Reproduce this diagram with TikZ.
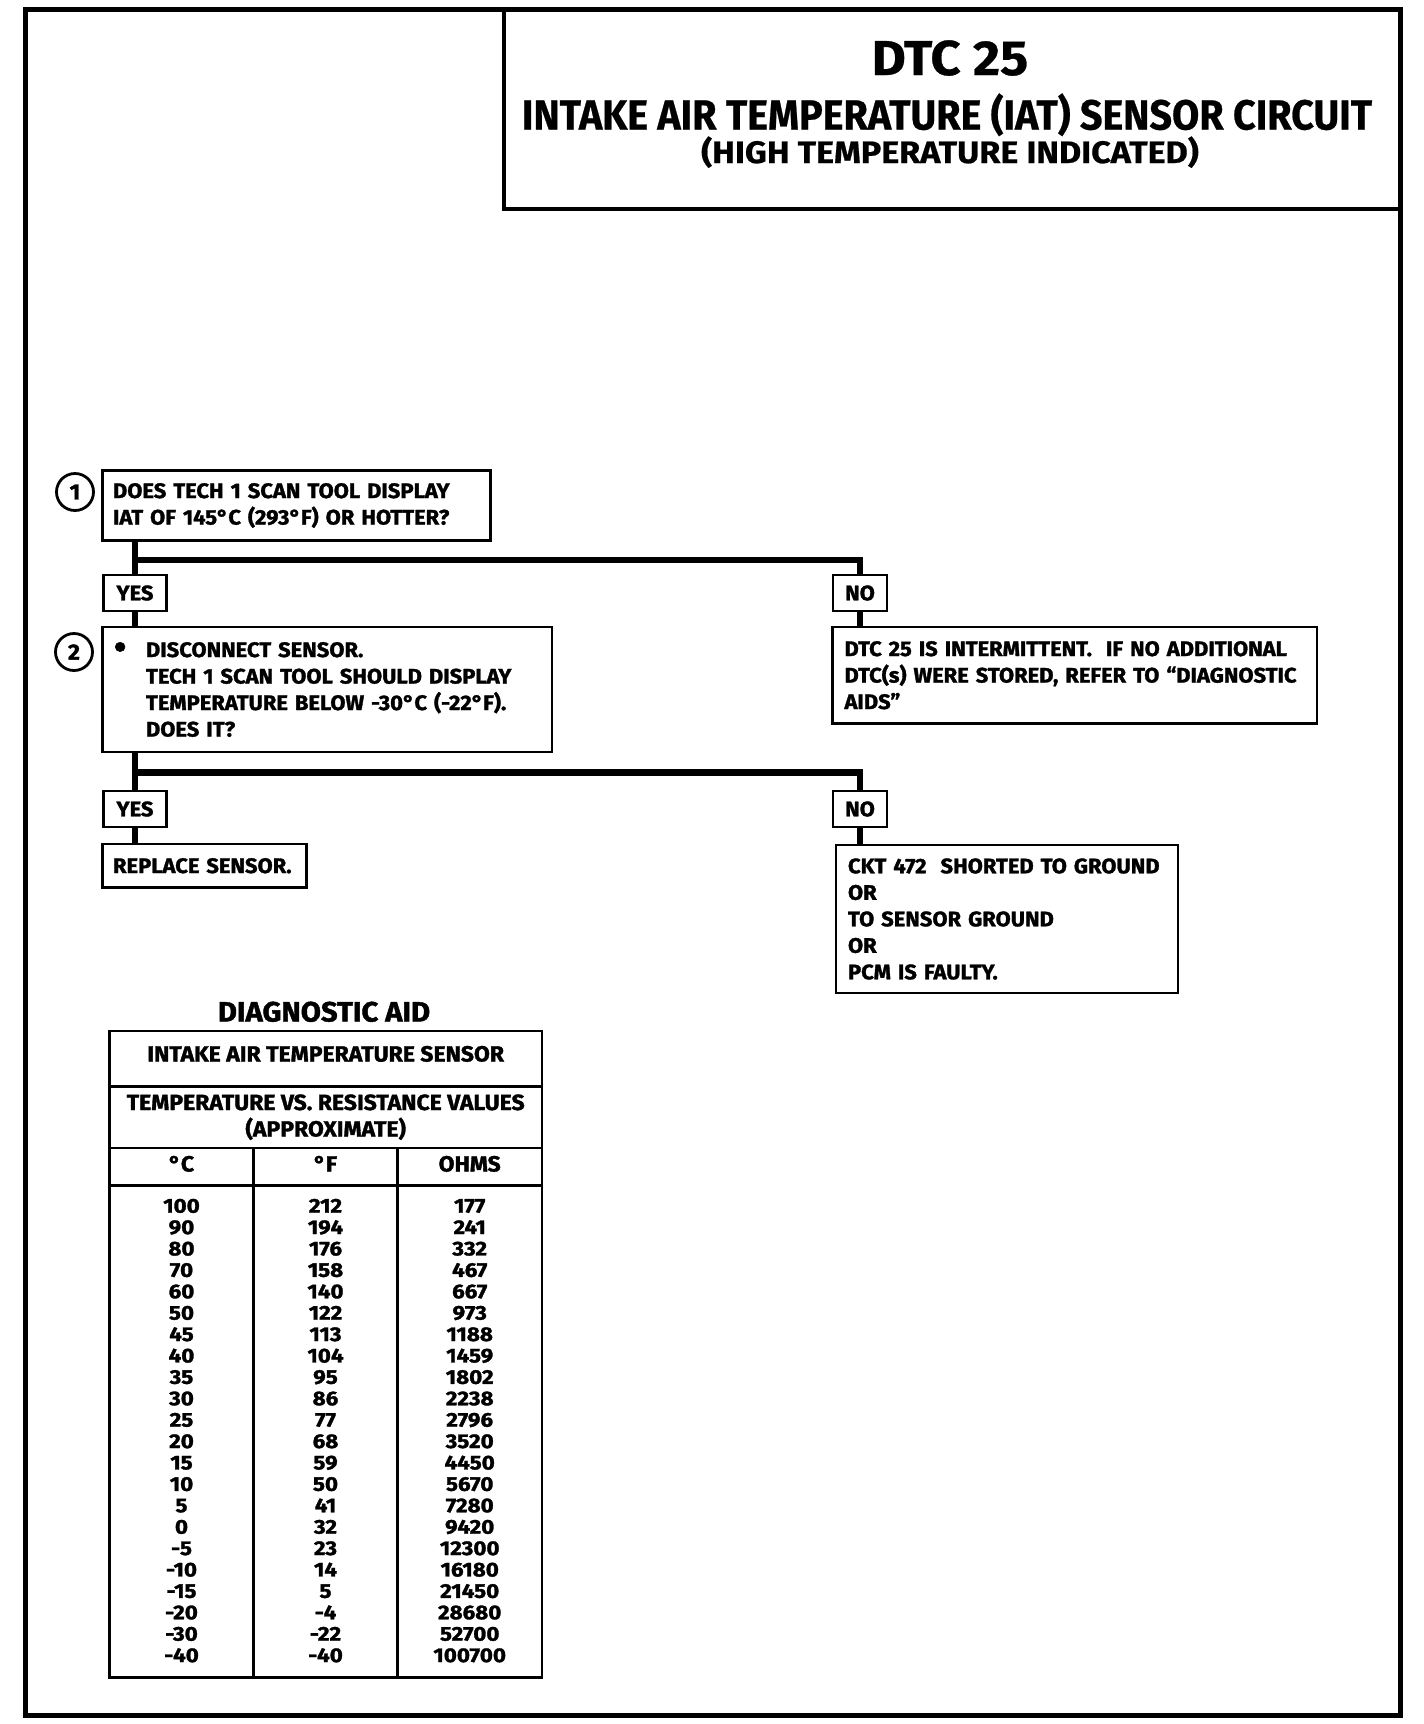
\documentclass[tikz,border=0pt]{standalone}
\usepackage{fontspec}
\setmainfont{Fira Sans}
\newfontfamily\tfontA{Fira Sans}[FakeStretch=1.07, FakeBold=0.6]
\newfontfamily\tfontB{Fira Sans}[FakeStretch=0.94, FakeBold=0.6]
\newfontfamily\tfontC{Fira Sans}[FakeStretch=1.1, FakeBold=0.6]
\newfontfamily\bfont{Fira Sans}[FakeStretch=1.045, FakeBold=1.5]
\newfontfamily\cfont{Fira Sans}[FakeStretch=1.12, FakeBold=1.5]
\newcommand\bodyf{\bfont\bfseries\fontsize{21}{26.5}\selectfont}
\newcommand\headf{\bfont\bfseries\fontsize{22}{26.5}\selectfont}
\newcommand\cellf{\cfont\bfseries\fontsize{20}{21}\selectfont}
\newcommand\numf{\bfont\bfseries\fontsize{22}{22}\selectfont}
\newcommand\bigbul{\raisebox{-1.5pt}{\fontsize{34}{26.5}\selectfont•}}
\begin{document}
\begin{tikzpicture}[x=1pt,y=-1pt,
  frameline/.style={line width=5pt},
  fbox/.style={draw, line width=2.6pt, anchor=north west, outer sep=0pt, inner xsep=10.5pt, inner ysep=0pt, align=left, font=\bodyf},
  lab/.style={draw, line width=2.6pt, minimum width=63pt, minimum height=36pt, inner sep=0pt, outer sep=0pt, font=\bodyf},
  conn/.style={line width=6.5pt},
  numc/.style={draw, circle, line width=2.8pt, minimum size=37pt, inner sep=0pt, font=\numf},
  tline/.style={line width=2.5pt},
  cell/.style={font=\cellf, inner sep=0pt, text height=13.3pt, text depth=0pt},
  thead/.style={font=\headf, inner sep=0pt, anchor=base},
]
\useasboundingbox (0,0) rectangle (1424,1724);
% outer frame and title box
\draw[frameline] (25,9.5) rectangle (1400,1715);
\draw[line width=4pt] (504,9.5) -- (504,209) -- (1400,209);
\node[anchor=base, inner sep=0pt, font={\tfontA\bfseries\fontsize{49}{49}\selectfont}] (t1) at (950,75) {DTC 25};
\node[anchor=base, inner sep=0pt, font={\tfontB\bfseries\fontsize{42}{42}\selectfont}] (t2) at (947,129.5) {INTAKE AIR TEMPERATURE (IAT) SENSOR CIRCUIT};
\node[anchor=base, inner sep=0pt, font={\tfontC\bfseries\fontsize{31}{31}\selectfont}] (t3) at (950,163) {(HIGH TEMPERATURE INDICATED)};

% step circles
\node[numc] (c1) at (75,492) {1};
\node[numc] (c2) at (74,652) {2};

% boxes
\node[fbox, text width=367pt, minimum height=70pt] (q1) at (102.5,470.5)
  {DOES TECH 1 SCAN TOOL DISPLAY\\IAT OF 145°C (293°F) OR HOTTER?};
\node[fbox, text width=428.5pt, minimum height=125pt] (q2) at (102.5,627)
  {\makebox[33pt][l]{\hspace{1pt}\bigbul}DISCONNECT SENSOR.\\
   \hspace*{33pt}TECH 1 SCAN TOOL SHOULD DISPLAY\\
   \hspace*{33pt}TEMPERATURE BELOW -30°C (-22°F).\\
   \hspace*{33pt}DOES IT?};
\node[fbox, inner xsep=12pt, text width=460.5pt, minimum height=96.5pt] (r1) at (832.5,627)
  {DTC 25 IS INTERMITTENT.\ \ IF NO ADDITIONAL\\DTC(s) WERE STORED, REFER TO “DIAGNOSTIC\\AIDS”};
\node[fbox, text width=183pt, minimum height=43.5pt] (rep) at (102.5,844)
  {REPLACE SENSOR.};
\node[fbox, inner xsep=12pt, text width=318pt, minimum height=148pt] (ckt) at (836,845)
  {CKT 472\ \ SHORTED TO GROUND\\OR\\TO SENSOR GROUND\\OR\\PCM IS FAULTY.};

% yes / no labels
\node[lab] (yes1) at (135,593) {YES};
\node[lab, minimum width=54pt] (no1) at (860,593) {NO};
\node[lab] (yes2) at (135,809) {YES};
\node[lab, minimum width=54pt] (no2) at (860,809) {NO};

% connectors
\coordinate (h1) at (0,560);
\coordinate (h2) at (0,772.5);
\draw[conn] (yes1.north |- q1.south) -- (yes1.north);
\draw[conn] (yes1.south) -- (yes1.south |- q2.north);
\draw[conn] (yes1.north |- h1) -| (no1.north);
\draw[conn] (no1.south) -- (no1.south |- r1.north);
\draw[conn] (yes2.north |- q2.south) -- (yes2.north);
\draw[conn] (yes2.south) -- (yes2.south |- rep.north);
\draw[conn] (yes2.north |- h2) -| (no2.north);
\draw[conn] (no2.south) -- (no2.south |- ckt.north);

% diagnostic aid table
\node[anchor=base, inner sep=0pt, font={\bfont\bfseries\fontsize{28}{28}\selectfont}] (da) at (324,1021.5) {DIAGNOSTIC AID};
\draw[tline] (109.5,1031) rectangle (542,1677.5);
\draw[tline] (109.5,1086.5) -- (542,1086.5);
\draw[tline] (109.5,1148) -- (542,1148);
\draw[line width=3pt] (109.5,1185) -- (542,1185);
\draw[tline] (253.5,1148) -- (253.5,1677.5);
\draw[tline] (397.5,1148) -- (397.5,1677.5);
\node[thead] (h1t) at (325.7,1061.5) {INTAKE AIR TEMPERATURE SENSOR};
\node[thead] (h2t) at (325.7,1110) {TEMPERATURE VS. RESISTANCE VALUES};
\node[thead] (h3t) at (325.7,1136.5) {(APPROXIMATE)};
\node[thead] (hc) at (181.5,1171.5) {°C};
\node[thead] (hf) at (325.5,1171.5) {°F};
\node[thead] (ho) at (469.7,1171.5) {OHMS};
\foreach \c/\f/\o [count=\i from 0] in {100/212/177,90/194/241,80/176/332,70/158/467,60/140/667,50/122/973,45/113/1188,40/104/1459,35/95/1802,30/86/2238,25/77/2796,20/68/3520,15/59/4450,10/50/5670,5/41/7280,0/32/9420,-5/23/12300,-10/14/16180,-15/5/21450,-20/-4/28680,-30/-22/52700,-40/-40/100700}{
  \node[cell] (dc\i) at (181.5,{1206+21.4*\i}) {\c};
  \node[cell] (df\i) at (325.5,{1206+21.4*\i}) {\f};
  \node[cell] (do\i) at (469.7,{1206+21.4*\i}) {\o};
}
\end{tikzpicture}
\end{document}
